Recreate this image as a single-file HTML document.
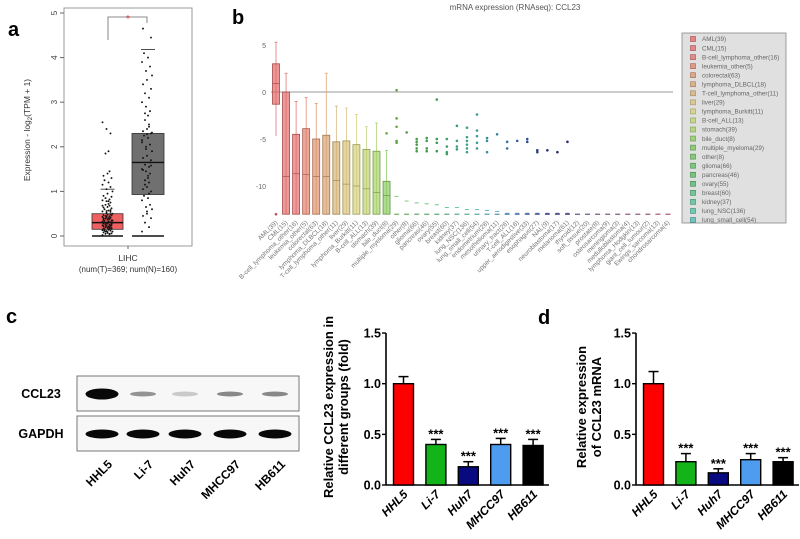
<!DOCTYPE html>
<html><head><meta charset="utf-8"><style>
html,body{margin:0;padding:0;background:#fff}
svg{display:block;font-family:"Liberation Sans",Arial,sans-serif}
</style></head><body>
<svg id="fig" width="800" height="539" viewBox="0 0 800 539">
<g id="pa"></g>
<g id="pb"></g>
<g id="pc"></g>
<g id="pd"></g>
</svg>
<script>
// ---------- Panel a data ----------
const aGroups = ["Tumor","Normal"];
const aBoxQ1 = [0.15, 0.93];
const aBoxMed = [0.3, 1.65];
const aBoxQ3 = [0.5, 2.3];
const aWhiskHi = [1.05, 4.18];
const aTumorPts = [0.02,0.04,0.05,0.06,0.08,0.09,0.1,0.11,0.12,0.13,0.14,0.15,0.16,0.17,0.18,0.19,0.2,0.21,0.22,0.23,0.24,0.25,0.26,0.27,0.28,0.29,0.3,0.3,0.31,0.32,0.33,0.34,0.35,0.36,0.37,0.38,0.39,0.4,0.41,0.42,0.43,0.44,0.45,0.46,0.47,0.48,0.5,0.52,0.54,0.55,0.57,0.6,0.62,0.64,0.65,0.68,0.7,0.72,0.75,0.78,0.8,0.82,0.85,0.88,0.9,0.95,1.0,1.05,1.1,1.15,1.2,1.25,1.3,1.35,1.4,1.45,1.85,1.9,2.3,2.4,2.55,0.05,0.1,0.18,0.22,0.28,0.35,0.44,0.58,0.68,0.78,0.12,0.24,0.4,0.07,0.16,0.26,0.33,0.49,0.56];
const aNormalPts = [0.1,0.2,0.3,0.4,0.45,0.5,0.6,0.65,0.7,0.8,0.85,0.9,1.0,1.05,1.1,1.2,1.25,1.3,1.4,1.45,1.5,1.55,1.6,1.7,1.75,1.8,1.9,2.0,2.05,2.1,2.2,2.25,2.3,2.35,2.4,2.5,2.6,2.7,2.8,2.9,3.0,3.1,3.2,3.3,3.4,3.5,3.6,3.7,3.8,3.9,4.0,4.1,4.45,4.65,0.55,0.95,1.15,1.35,1.65,1.95,2.15,2.45,2.75,1.58,1.48,2.28,2.32];
const aYTicks = [0,1,2,3,4,5];

// ---------- Panel b data ----------
const bCats = ["AML(39)","CML(15)","B-cell_lymphoma_other(16)","leukemia_other(5)","colorectal(63)","lymphoma_DLBCL(18)","T-cell_lymphoma_other(11)","liver(29)","lymphoma_Burkitt(11)","B-cell_ALL(13)","stomach(39)","bile_duct(8)","multiple_myeloma(29)","other(8)","glioma(66)","pancreas(46)","ovary(55)","breast(60)","kidney(37)","lung_NSC(136)","lung_small_cell(54)","endometrium(28)","mesothelioma(11)","urinary_tract(26)","T-cell_ALL(16)","upper_aerodigestive(33)","esophagus(27)","NAL(9)","neuroblastoma(17)","melanoma(61)","thyroid(12)","soft_tissue(20)","prostate(8)","osteosarcoma(9)","meningioma(3)","medulloblastoma(4)","lymphoma_Hodgkin(13)","giant_cell_tumour(2)","Ewings_sarcoma(13)","chondrosarcoma(4)"];
const bBoxHi = [5.3,2,-1,-0.6,-1.2,2,-1.5,-1.7,-2.4,-3.7,-3.3,-6.2];
const bBoxQ3 = [3,0,-4.5,-3.9,-5,-4.6,-5.3,-5.2,-5.6,-6.1,-6.3,-9.5];
const bBoxMed = [0.9,-9,-8.7,-8.8,-9,-9,-9.4,-9.8,-10,-10.3,-10.7,-11];
const bBoxQ1 = [-1.3,-13,-13,-13,-13,-13,-13,-13,-13,-13,-13,-13];
const bBoxLo = [-4.7,-13,-13,-13,-13,-13,-13,-13,-13,-13,-13,-13];
const bDots = [[-13],[],[],[],[],[],[],[],[],[],[],[-4.4],[0.2,-2.8,-3.7,-5.2,-5.4],[-4.3],[-5,-5.3,-5.6,-6,-6.3],[-4.9,-5.2,-6,-6.3],[-0.8,-5,-5.4,-6.3],[-5,-5.8,-6.4,-6.6],[-3.6,-5.2,-5.8,-6.1],[-3.8,-4.8,-5.2,-5.6,-6,-6.4],[-2.4,-4.1,-4.7,-5.4,-6],[-4.9,-5.2,-6.4],[-4.5],[-5.3,-6],[-5.2],[-5,-5.3],[-6.2,-6.4],[-6.2],[-6.4],[-5.3]];
const bLowDash = [null,null,null,null,null,null,null,null,null,null,null,null,-11.1,-11.6,-11.8,-11.9,-12,-12.3,-12.3,-12.5,-12.5,-12.6,-12.7,-12.9,-12.9,-12.9,-12.9,-12.9,-12.9,-12.9];
const bYTicks = [5,0,-5,-10];

// ---------- Panel c / d data ----------
const cellLines = ["HHL5","Li-7","Huh7","MHCC97","HB611"];
const barColors = ["#ff0000","#13b31a","#0a0a80","#4d9cf0","#000000"];
const cVals = [1.0,0.40,0.18,0.40,0.39];
const cErr = [0.07,0.05,0.05,0.06,0.06];
const cSig = ["","***","***","***","***"];
const dVals = [1.0,0.23,0.12,0.25,0.23];
const dErr = [0.12,0.08,0.04,0.06,0.04];
const dSig = ["","***","***","***","***"];
const blotCCL23 = [1.0,0.45,0.2,0.5,0.5];
const blotGAPDH = [1.0,1.0,1.0,1.0,1.0];
const barTicks = [0,0.5,1.0,1.5];

const NS="http://www.w3.org/2000/svg";
function mk(parent,tag,attrs,text){const e=document.createElementNS(NS,tag);for(const k in attrs)e.setAttribute(k,attrs[k]);if(text!==undefined)e.textContent=text;parent.appendChild(e);return e;}

// ===== Panel a =====
(function(){
const g=document.getElementById('pa');
const y=v=>236-v*44.6;
let t=mk(g,'text',{x:8,y:36,'font-size':20,'font-weight':'bold'},'a');


let fr=mk(g,'rect',{x:64,y:8,width:128,height:238,fill:'none',stroke:'#999','stroke-width':1});


aYTicks.forEach(v=>{
 mk(g,'line',{x1:60,x2:64,y1:y(v),y2:y(v),stroke:'#666'});
 let tl=mk(g,'text',{x:54,y:y(v),'font-size':8,'text-anchor':'middle',fill:'#444',transform:`rotate(-90 54 ${y(v)})`,dy:3},String(v));
 
 
});
let yt=mk(g,'text',{x:30,y:130,'font-size':8.5,'text-anchor':'middle',fill:'#333',transform:'rotate(-90 30 130)'});


yt.innerHTML='Expression - log<tspan font-size="6" dy="2">2</tspan><tspan dy="-2">(TPM + 1)</tspan>';
const cx=[107.5,148], hw=[15.5,16], fills=['#f06060','#707070'];
for(let i=0;i<2;i++){
 let bx=mk(g,'rect',{x:cx[i]-hw[i],y:y(aBoxQ3[i]),width:hw[i]*2,height:y(aBoxQ1[i])-y(aBoxQ3[i]),fill:fills[i],stroke:'#333','stroke-width':0.8});
 
 
 mk(g,'line',{x1:cx[i]-hw[i],x2:cx[i]+hw[i],y1:y(aBoxMed[i]),y2:y(aBoxMed[i]),stroke:'#111','stroke-width':1.4});
 mk(g,'line',{x1:cx[i]-7,x2:cx[i]+7,y1:y(aWhiskHi[i]),y2:y(aWhiskHi[i]),stroke:'#222','stroke-width':0.8});
 mk(g,'line',{x1:cx[i]-hw[i],x2:cx[i]+hw[i],y1:y(0),y2:y(0),stroke:'#111','stroke-width':1.6});
}
const pts=[aTumorPts,aNormalPts];
const jit=[-5,2,-2,4,-4,0,5,-1,3,-5,1,-3,4,-4,0,2,-2,1,3,-1];
const off=[0,-1];
pts.forEach((arr,i)=>arr.forEach((v,k)=>{
 let c=mk(g,'circle',{cx:cx[i]+off[i]+jit[k%jit.length],cy:y(v),r:0.95,fill:'#111'});
 
 
}));
mk(g,'path',{d:'M108 40 V17 H147 V23',fill:'none',stroke:'#666','stroke-width':0.8});
let st=mk(g,'text',{x:128,y:22,'font-size':10,'text-anchor':'middle',fill:'#e03030'},'*');


mk(g,'line',{x1:128,x2:128,y1:246,y2:249,stroke:'#666'});
let l1=mk(g,'text',{x:128,y:261,'font-size':8.5,'text-anchor':'middle',fill:'#333'},'LIHC');


let l2=mk(g,'text',{x:128,y:272,'font-size':8,'text-anchor':'middle',fill:'#333'},'(num(T)=369; num(N)=160)');


})();

// ===== Panel b =====
(function(){
const g=document.getElementById('pb');
const y=v=>92-v*9.4;
const x=i=>276+i*10.05;
const stops=[[0,[224,96,96]],[0.05,[224,100,100]],[0.1,[220,140,100]],[0.15,[210,170,110]],[0.2,[215,205,120]],[0.25,[170,210,100]],[0.3,[110,195,80]],[0.4,[70,180,90]],[0.5,[70,190,170]],[0.6,[60,130,200]],[0.7,[40,50,130]],[0.8,[90,60,130]],[1,[200,60,100]]];
function col(i,n){const f=i/(n-1);let a=stops[0],b=stops[stops.length-1];for(let k=0;k<stops.length-1;k++){if(f>=stops[k][0]&&f<=stops[k+1][0]){a=stops[k];b=stops[k+1];break;}}const r=(f-a[0])/((b[0]-a[0])||1);return a[1].map((c,j)=>Math.round(c+(b[1][j]-c)*r));}
const rgb=(c,a)=>`rgba(${c[0]},${c[1]},${c[2]},${a})`;
let t=mk(g,'text',{x:232,y:24,'font-size':20,'font-weight':'bold'},'b');


let ti=mk(g,'text',{x:515,y:10,'font-size':8,'text-anchor':'middle',fill:'#555'},'mRNA expression (RNAseq): CCL23');


bYTicks.forEach(v=>{
 let tl=mk(g,'text',{x:266,y:y(v)+3,'font-size':7,'text-anchor':'end',fill:'#666'},String(v));
 
 
});
let zl=mk(g,'line',{x1:271,x2:673,y1:y(0),y2:y(0),stroke:'#777','stroke-width':0.8});


const n=bCats.length;
bCats.forEach((c,i)=>{
 const cc=col(i,n);
 if(i<bBoxQ3.length){
  mk(g,'line',{x1:x(i),x2:x(i),y1:y(bBoxHi[i]),y2:y(bBoxLo[i]),stroke:rgb(cc,1),'stroke-width':0.7});
  mk(g,'line',{x1:x(i)-1.5,x2:x(i)+1.5,y1:y(bBoxHi[i]),y2:y(bBoxHi[i]),stroke:rgb(cc,1),'stroke-width':0.7});
  let b=mk(g,'rect',{x:x(i)-3.5,y:y(bBoxQ3[i]),width:7,height:y(bBoxQ1[i])-y(bBoxQ3[i]),fill:rgb(cc,0.65),stroke:rgb(cc.map(v=>v*0.75),1),'stroke-width':0.8});
  
  
  mk(g,'line',{x1:x(i)-3.5,x2:x(i)+3.5,y1:y(bBoxMed[i]),y2:y(bBoxMed[i]),stroke:rgb(cc.map(v=>v*0.7),1),'stroke-width':0.6});
 }
 (bDots[i]||[]).forEach(v=>{
  let d=mk(g,'circle',{cx:x(i),cy:y(v),r:1.3,fill:rgb(cc.map(v=>v*0.85),1)});
  
  
 });
 if(bLowDash[i]!=null){
  mk(g,'line',{x1:x(i)-2,x2:x(i)+2,y1:y(bLowDash[i]),y2:y(bLowDash[i]),stroke:rgb(cc,1),'stroke-width':0.8});
 }
 if(i>=12) mk(g,'line',{x1:x(i)-2.5,x2:x(i)+2.5,y1:y(-13),y2:y(-13),stroke:rgb(cc.map(v=>v*0.8),1),'stroke-width':1});
 let xl=mk(g,'text',{x:x(i)+2,y:223,'font-size':6.5,'text-anchor':'end',fill:'#777',transform:`rotate(-45 ${x(i)+2} 223)`},c);
 
 
});
let lg=mk(g,'rect',{x:682,y:33,width:104,height:190,fill:'#e0e0e0',stroke:'#888','stroke-width':0.8});


for(let i=0;i<21;i++){
 const cc=col(i,n), yy=39+i*9.05;
 let sw=mk(g,'rect',{x:690.5,y:yy-2.5,width:5,height:5,fill:rgb(cc,0.7),stroke:rgb(cc.map(v=>v*0.75),1),'stroke-width':0.6});
 
 
 let lt=mk(g,'text',{x:702,y:yy+2.2,'font-size':6.3,fill:'#666'},bCats[i]);
 
 
}
})();

// ===== Bar chart helper =====
function barChart(g,ax,vals,errs,sigs,titleLines,titleX,name){
 const y=v=>485-v*101.3;
 const cx=i=>ax+17.5+i*32.4;
 mk(g,'line',{x1:ax,x2:ax,y1:y(1.5),y2:y(0),stroke:'#000','stroke-width':1.6});
 mk(g,'line',{x1:ax,x2:ax+163,y1:y(0),y2:y(0),stroke:'#000','stroke-width':1.6});
 barTicks.forEach(v=>{
  mk(g,'line',{x1:ax-4,x2:ax,y1:y(v),y2:y(v),stroke:'#000','stroke-width':1.4});
  let tl=mk(g,'text',{x:ax-5,y:y(v)+4.5,'font-size':12.5,'font-weight':'bold','text-anchor':'end'},v.toFixed(1));
  
  
 });
 titleLines.forEach((s,k)=>{
  const tx=titleX+k*15;
  let tt=mk(g,'text',{x:tx,y:407,'font-size':13,'font-weight':'bold','text-anchor':'middle',transform:`rotate(-90 ${tx} 407)`},s);
  
  
 });
 vals.forEach((v,i)=>{
  const top=v+errs[i];
  mk(g,'line',{x1:cx(i),x2:cx(i),y1:y(v),y2:y(top),stroke:'#000','stroke-width':1.5});
  mk(g,'line',{x1:cx(i)-5,x2:cx(i)+5,y1:y(top),y2:y(top),stroke:'#000','stroke-width':1.5});
  let b=mk(g,'rect',{x:cx(i)-10,y:y(v),width:20,height:y(0)-y(v),fill:barColors[i],stroke:'#000','stroke-width':1.4});
  
  
  if(sigs[i]){
   let s=mk(g,'text',{x:cx(i),y:y(top)-1,'font-size':13,'font-weight':'bold','text-anchor':'middle'},sigs[i]);
   
   
  }
  let xl=mk(g,'text',{x:cx(i)+5,y:495,'font-size':12,'font-weight':'bold','font-style':'italic','text-anchor':'end',transform:`rotate(-45 ${cx(i)+5} 495)`},cellLines[i]);
  
  
 });
}

// ===== Panel c =====
(function(){
const g=document.getElementById('pc');
let t=mk(g,'text',{x:6,y:323,'font-size':20,'font-weight':'bold'},'c');


const rows=[['CCL23',376,blotCCL23],['GAPDH',416,blotGAPDH]];
const lx=[102,143,185,230,275];
rows.forEach(([nm,top,vals])=>{
 let r=mk(g,'rect',{x:77,y:top,width:222,height:35,fill:'#f7f7f7',stroke:'#777','stroke-width':1});
 
 
 let lb=mk(g,'text',{x:41,y:top+22,'font-size':12.5,'font-weight':'bold','text-anchor':'middle'},nm);
 
 
 vals.forEach((v,i)=>{
  const big=nm==='GAPDH'||v>0.9;
  const h=nm==='GAPDH'?9:(v>0.9?11:5);
  let e=mk(g,'ellipse',{cx:lx[i],cy:top+18,rx:big?16.5:13,ry:h/2,fill:`rgba(0,0,0,${big?0.97:v*0.9})`});
  
  
 });
});
cellLines.forEach((c,i)=>{
 let tl=mk(g,'text',{x:lx[i]+11,y:465,'font-size':12,'font-weight':'bold','text-anchor':'end',transform:`rotate(-45 ${lx[i]+11} 465)`},c);
 
 
});
barChart(g,386,cVals,cErr,cSig,['Relative CCL23 expression in','different groups (fold)'],333,'c');
})();

// ===== Panel d =====
(function(){
const g=document.getElementById('pd');
let t=mk(g,'text',{x:538,y:324,'font-size':20,'font-weight':'bold'},'d');


barChart(g,636,dVals,dErr,dSig,['Relative expression','of CCL23 mRNA'],586,'d');
})();
</script>
</body></html>
